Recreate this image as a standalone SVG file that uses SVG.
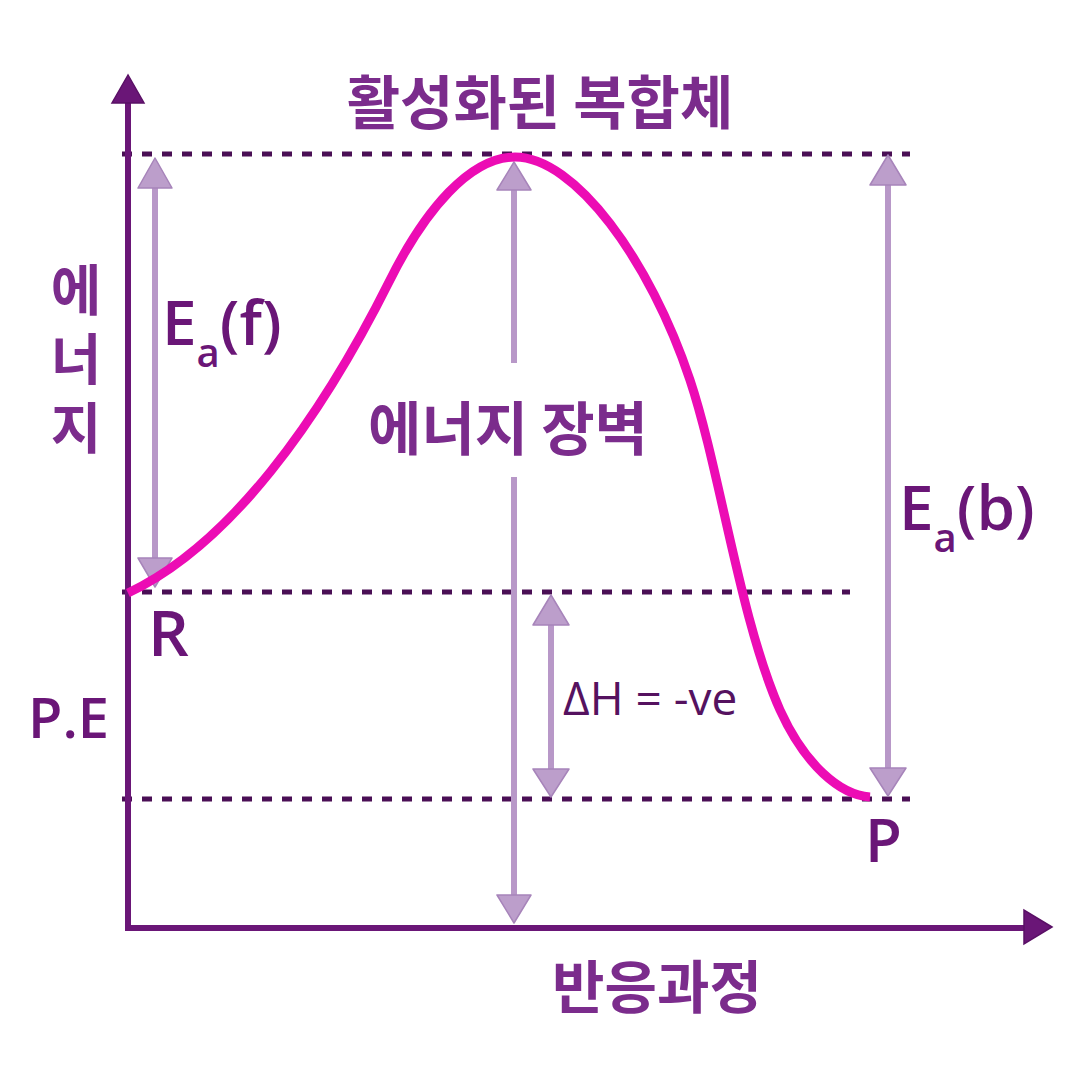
<svg xmlns="http://www.w3.org/2000/svg" width="1080" height="1080" viewBox="0 0 1080 1080">
<style>
.ko{font-family:"Noto Sans CJK KR","Noto Sans",sans-serif;font-weight:700;fill:#7b2c8c;}
.la{font-family:"Open Sans","Noto Sans",sans-serif;font-weight:600;fill:#6a1677;}
.dash{stroke:#4a0f55;stroke-width:5;stroke-dasharray:10 10;fill:none;}
.light{stroke:#b898c8;stroke-width:6;fill:none;}
.head{fill:#bc9ecb;stroke:#a784ba;stroke-width:1.5;stroke-linejoin:round;}
.axis{stroke:#6a1677;stroke-width:6;fill:none;}
</style>
<rect width="1080" height="1080" fill="#ffffff"/>
<g id="connectors">
  <!-- dashed level lines -->
  <line class="dash" x1="122" y1="154" x2="910" y2="154"/>
  <line class="dash" x1="122" y1="592" x2="850" y2="592"/>
  <line class="dash" x1="122" y1="799" x2="910" y2="799"/>
  <!-- axes -->
  <line class="axis" x1="128" y1="931" x2="128" y2="100"/>
  <polygon points="128,75 112,103 144,103" fill="#6a1677" stroke="#5a1066" stroke-width="1.5"/>
  <line class="axis" x1="125" y1="928" x2="1028" y2="928"/>
  <polygon points="1052,927 1024,910 1024,944" fill="#6a1677" stroke="#5a1066" stroke-width="1.5"/>
  <!-- Ea(f) arrow -->
  <line class="light" x1="155" y1="185" x2="155" y2="562"/>
  <polygon class="head" points="155,158 138,188 172,188"/>
  <polygon class="head" points="155,587 138,558 172,558"/>
  <!-- energy barrier arrow -->
  <line class="light" x1="514" y1="186" x2="514" y2="363"/>
  <line class="light" x1="514" y1="477" x2="514" y2="898"/>
  <polygon class="head" points="514,162 497,190 531,190"/>
  <polygon class="head" points="514,923 497,895 531,895"/>
  <!-- Ea(b) arrow -->
  <line class="light" x1="888" y1="182" x2="888" y2="771"/>
  <polygon class="head" points="888,155 870,185 906,185"/>
  <polygon class="head" points="888,796 870,768 906,768"/>
  <!-- ΔH arrow -->
  <line class="light" x1="551" y1="622" x2="551" y2="772"/>
  <polygon class="head" points="551,595 533,625 569,625"/>
  <polygon class="head" points="551,797 533,769 569,769"/>
  <!-- energy curve -->
  <path d="M128,593 C230,545 320,420 390,280 C425,210 470,157 515,157 C575,157 650,260 690,380 C720,470 740,620 780,710 C805,765 840,795 870,797" fill="none" stroke="#ec0cb4" stroke-width="9" stroke-linecap="butt"/>
</g>
<g id="title"><text class="ko" x="540" y="124" font-size="58" text-anchor="middle">활성화된 복합체</text></g>
<g id="barrier"><text class="ko" x="508" y="450" font-size="58" text-anchor="middle">에너지 장벽</text></g>
<g id="xlabel"><text class="ko" x="657" y="1008" font-size="57" text-anchor="middle">반응과정</text></g>
<g id="ylabel">
  <text class="ko" x="76" y="262" font-size="55" letter-spacing="14" style="writing-mode:vertical-rl;text-orientation:upright">에너지</text>
</g>
<g id="pe"><text class="la" x="28" y="738" font-size="56" fill="#6e1a80">P.E</text></g>
<g id="R"><text class="la" x="148" y="656" font-size="64">R</text></g>
<g id="P"><text class="la" x="865" y="862" font-size="60">P</text></g>
<g id="eaf"><text class="la" x="162" y="345" font-size="62">E<tspan font-size="40" dy="22">a</tspan><tspan dy="-22">(f)</tspan></text></g>
<g id="eab"><text class="la" x="899" y="530" font-size="62">E<tspan font-size="40" dy="22">a</tspan><tspan dy="-22">(b)</tspan></text></g>
<g id="dh"><text x="563" y="715" font-size="46" font-family="Open Sans, Noto Sans, sans-serif" font-weight="500" fill="#55125f">ΔH = -ve</text></g>
</svg>
